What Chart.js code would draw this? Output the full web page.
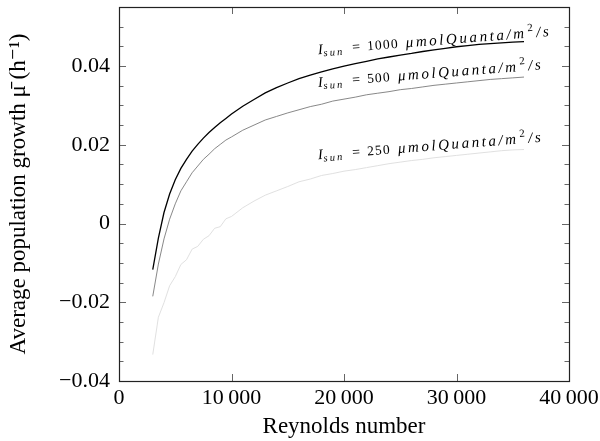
<!DOCTYPE html>
<html>
<head>
<meta charset="utf-8">
<script src="https://cdn.jsdelivr.net/npm/chart.js@4/dist/chart.umd.min.js"></script>
<style>
  html, body { margin: 0; padding: 0; background: #fff; }
  #wrap { width: 600px; height: 441px; }
</style>
</head>
<body>
<div id="wrap"><canvas id="c" width="600" height="441"></canvas></div>
<script>
// ---- Data ----
const reynolds = [3000,3500,4000,4500,5000,5500,6000,6500,7000,7500,8000,8500,9000,9500,10000,
  11000,12000,13000,14000,15000,16000,17000,18000,19000,20000,21000,22000,23000,24000,25000,
  26000,27000,28000,29000,30000,31000,32000,33000,34000,35000,36000];

const mu1000 = [-0.0117,-0.0037,0.0028,0.0075,0.0111,0.0140,0.0163,0.0184,0.0201,0.0217,0.0231,0.0244,0.0256,0.0267,0.0278,
  0.0298,0.0315,0.0332,0.0345,0.0357,0.0368,0.0377,0.0385,0.0393,0.0400,0.0406,0.0412,0.0418,0.0423,0.0428,
  0.0432,0.0437,0.0441,0.0445,0.0449,0.0452,0.0455,0.0457,0.0459,0.0461,0.0462];

const mu500 = [-0.0185,-0.0103,-0.0039,0.0011,0.0050,0.0083,0.0106,0.0129,0.0146,0.0163,0.0176,0.0190,0.0201,0.0212,0.0220,
  0.0237,0.0250,0.0263,0.0272,0.0281,0.0289,0.0297,0.0303,0.0311,0.0316,0.0321,0.0327,0.0331,0.0335,0.0340,
  0.0343,0.0347,0.0351,0.0354,0.0357,0.0360,0.0363,0.0366,0.0368,0.0370,0.0372];

const mu250 = [-0.0333,-0.0238,-0.0201,-0.0158,-0.0135,-0.0104,-0.0092,-0.0065,-0.0058,-0.0040,-0.0031,-0.0012,-0.0008,0.0012,0.0018,
  0.0040,0.0057,0.0072,0.0083,0.0094,0.0106,0.0113,0.0122,0.0127,0.0133,0.0137,0.0142,0.0147,0.0152,0.0156,
  0.0160,0.0163,0.0167,0.0170,0.0173,0.0176,0.0179,0.0182,0.0185,0.0187,0.0188];

const irradiance = ['1000', '500', '250'];
const xTickValues = [0, 10000, 20000, 30000, 40000];
const yTickValues = [-0.04, -0.02, 0, 0.02, 0.04];
// label anchors in data coordinates (Reynolds, mu)
const labelRe = [17700, 17700, 17700];
const labelMu = [0.0430, 0.0347, 0.0163];

// ---- Styling ----
const SERIF = '"Liberation Serif", "DejaVu Serif", serif';
const lineColors = ['#000000', '#7a7a7a', '#dcdcdc'];
const lineWidths = [1.3, 0.9, 0.9];

function toPts(ys) { return reynolds.map((x, i) => ({ x: x, y: ys[i] })); }
const series = [mu1000, mu500, mu250];

const datasets = series.map((ys, i) => ({
  label: irradiance[i],
  data: toPts(ys),
  borderColor: lineColors[i],
  borderWidth: lineWidths[i],
  pointRadius: 0,
  tension: 0,
  fill: false
}));

function fmtX(v) {
  if (v === 0) return '0';
  const s = String(v);
  return s.slice(0, s.length - 3) + '\u2009' + s.slice(-3);
}
function fmtY(v) {
  if (Math.abs(v) < 1e-9) return '0';
  return (v < 0 ? '\u2212' : '') + Math.abs(v).toFixed(2);
}

function zeroPad(s) { s.paddingTop = 0; s.paddingBottom = 0; s.paddingLeft = 0; s.paddingRight = 0; }

const framePlugin = {
  id: 'frame',
  afterDatasetsDraw(chart) {
    const ctx = chart.ctx, a = chart.chartArea;
    const xs = chart.scales.x, ys = chart.scales.y;
    ctx.save();
    ctx.strokeStyle = '#666';
    ctx.lineWidth = 1;
    xTickValues.forEach(v => {
      const px = Math.round(xs.getPixelForValue(v)) + 0.5;
      ctx.beginPath();
      ctx.moveTo(px, a.bottom); ctx.lineTo(px, a.bottom - 7);
      ctx.moveTo(px, a.top); ctx.lineTo(px, a.top + 7);
      ctx.stroke();
    });
    for (let k = -8; k <= 10; k++) {
      const v = k * 0.005;
      const major = (k % 4 === 0);
      const len = major ? 7 : 4.5;
      const py = Math.round(ys.getPixelForValue(v)) + 0.5;
      if (py < a.top + 1) continue;
      ctx.beginPath();
      ctx.moveTo(a.left, py); ctx.lineTo(a.left + len, py);
      ctx.moveTo(a.right, py); ctx.lineTo(a.right - len, py);
      ctx.stroke();
    }
    ctx.strokeStyle = '#222';
    ctx.lineWidth = 1.2;
    ctx.strokeRect(Math.round(a.left) + 0.5, Math.round(a.top) + 0.5,
                   Math.round(a.right - a.left), Math.round(a.bottom - a.top));

    // curve labels
    const ang = -4.5 * Math.PI / 180;
    irradiance.forEach((val, i) => {
      const px = xs.getPixelForValue(labelRe[i]);
      const py = ys.getPixelForValue(labelMu[i]);
      ctx.save();
      ctx.translate(px, py);
      ctx.rotate(ang);
      ctx.fillStyle = '#000';
      ctx.textBaseline = 'alphabetic';
      ctx.textAlign = 'left';
      const segs = [
        { t: 'I', f: 'italic 14.5px', dy: 0, ls: 0, gap: 0.5 },
        { t: 'sun', f: 'italic 10.5px', dy: 2.5, ls: 2.2, gap: 8 },
        { t: '=', f: '14px', dy: 0, ls: 0, gap: 7 },
        { t: val, f: '13.5px', dy: 0, ls: 1.2, gap: 7 },
        { t: '\u03bcmolQuanta/m', f: 'italic 15px', dy: 0, ls: 2.6, gap: 1 },
        { t: '2', f: '11px', dy: -6.5, ls: 0, gap: 3 },
        { t: '/s', f: 'italic 15px', dy: 0, ls: 2.6, gap: 0 }
      ];
      let x = 0;
      segs.forEach(s => {
        ctx.font = s.f + ' ' + SERIF;
        ctx.letterSpacing = s.ls + 'px';
        ctx.fillText(s.t, x, s.dy);
        x += ctx.measureText(s.t).width + s.gap;
      });
      ctx.restore();
    });
    ctx.restore();
  }
};

const canvas = document.getElementById('c');
canvas.getContext('2d').letterSpacing = '0.4px';

new Chart(canvas, {
  type: 'line',
  data: { datasets: datasets },
  plugins: [framePlugin],
  options: {
    responsive: false,
    animation: false,
    layout: { padding: { top: 7, right: 31, left: 0, bottom: 0 } },
    plugins: { legend: { display: false }, tooltip: { enabled: false } },
    scales: {
      x: {
        type: 'linear',
        min: 0, max: 40000,
        afterFit: s => { s.height = 60; zeroPad(s); },
        afterBuildTicks: s => { s.ticks = xTickValues.map(v => ({ value: v })); },
        grid: { display: false, drawTicks: false },
        border: { display: false },
        ticks: {
          color: '#000', padding: 4, maxRotation: 0, autoSkip: false,
          font: { family: SERIF, size: 22 },
          callback: v => fmtX(v)
        },
        title: {
          display: true, text: 'Reynolds number', color: '#000',
          font: { family: SERIF, size: 23 }, padding: { top: 0, bottom: 0 }
        }
      },
      y: {
        type: 'linear',
        min: -0.04, max: 0.055,
        afterFit: s => { s.width = 119; zeroPad(s); },
        afterBuildTicks: s => { s.ticks = yTickValues.map(v => ({ value: v })); },
        grid: { display: false, drawTicks: false },
        border: { display: false },
        ticks: {
          color: '#000', padding: 9, autoSkip: false,
          font: { family: SERIF, size: 22 },
          callback: v => fmtY(v)
        },
        title: {
          display: true, text: 'Average population growth \u03bc\u0304 (h\u207b\u00b9)', color: '#000',
          font: { family: SERIF, size: 23 }, padding: { top: 5, bottom: 0 }
        }
      }
    }
  }
});
</script>
</body>
</html>
